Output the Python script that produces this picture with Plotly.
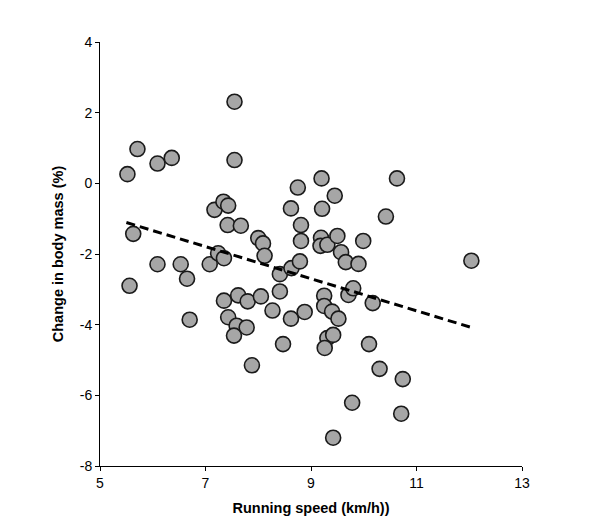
import plotly.graph_objects as go

speed = [5.52, 5.71, 5.63, 5.56, 6.09, 6.36, 6.09, 6.53, 6.65, 6.70,
         7.55, 7.55, 7.17, 7.34, 7.43, 7.42, 7.67, 7.08, 7.24, 7.35,
         7.35, 7.62, 7.80, 7.43, 7.59, 7.78, 7.54, 7.88, 8.00, 8.09,
         8.12, 8.05, 8.27, 8.41, 8.41, 8.47, 8.62, 8.63, 8.62, 8.75,
         8.81, 8.81, 8.79, 8.88, 9.20, 9.21, 9.19, 9.18, 9.31, 9.45,
         9.50, 9.57, 9.99, 9.66, 9.90, 10.42, 10.63, 12.04, 9.25, 9.25,
         9.40, 9.52, 9.31, 9.42, 9.26, 9.71, 9.80, 10.17, 10.10, 10.30,
         10.74, 9.78, 10.71, 9.42]
mass = [0.26, 0.97, -1.43, -2.90, 0.56, 0.72, -2.29, -2.29, -2.70, -3.86,
        2.31, 0.66, -0.75, -0.52, -0.63, -1.18, -1.20, -2.29, -1.98, -2.12,
        -3.32, -3.17, -3.34, -3.79, -4.03, -4.08, -4.31, -5.15, -1.55, -1.70,
        -2.05, -3.20, -3.60, -2.57, -3.06, -4.55, -0.71, -2.40, -3.83, -0.12,
        -1.18, -1.63, -2.21, -3.64, 0.14, -0.72, -1.54, -1.77, -1.74, -0.35,
        -1.49, -1.95, -1.63, -2.23, -2.28, -0.94, 0.14, -2.19, -3.18, -3.47,
        -3.63, -3.83, -4.38, -4.29, -4.66, -3.16, -2.97, -3.39, -4.55, -5.25,
        -5.54, -6.21, -6.52, -7.20]

trend_x = [5.50, 12.02]
trend_y = [-1.11, -4.07]

x_ticks = [5, 7, 9, 11, 13]
x_labels = ["5", "7", "9", "11", "13"]
y_ticks = [-8, -6, -4, -2, 0, 2, 4]
y_labels = ["-8", "-6", "-4", "-2", "0", "2", "4"]

fig = go.Figure()
fig.add_trace(go.Scatter(
    x=speed, y=mass, mode="markers",
    marker=dict(size=15, color="#a6a6a6", line=dict(color="#1a1a1a", width=1.6)),
    showlegend=False, hoverinfo="skip"))
fig.add_trace(go.Scatter(
    x=trend_x, y=trend_y, mode="lines",
    line=dict(color="black", width=3, dash="9px,5px"),
    showlegend=False, hoverinfo="skip"))

font_family = "Liberation Sans, Arial, sans-serif"
fig.update_layout(
    width=592, height=520,
    margin=dict(l=92, r=78, t=34, b=62),
    plot_bgcolor="white", paper_bgcolor="white",
    font=dict(family=font_family, color="black", size=14),
    xaxis=dict(range=[5, 13], tickvals=x_ticks, ticktext=x_labels,
               showgrid=False, zeroline=False,
               showline=True, linecolor="black", linewidth=1,
               ticks="outside", ticklen=4, tickcolor="black",
               tickfont=dict(size=14, family=font_family),
               title=dict(text="<b>Running speed (km/h))</b>", font=dict(size=14.5), standoff=13)),
    yaxis=dict(range=[-8, 4], tickvals=y_ticks, ticktext=y_labels,
               showgrid=False, zeroline=False,
               showline=True, linecolor="black", linewidth=1,
               ticks="outside", ticklen=4, tickcolor="black",
               tickfont=dict(size=14, family=font_family),
               title=dict(text="<b>Change in body mass (%)</b>", font=dict(size=14.5), standoff=12)),
)

fig.write_html("out.html")
